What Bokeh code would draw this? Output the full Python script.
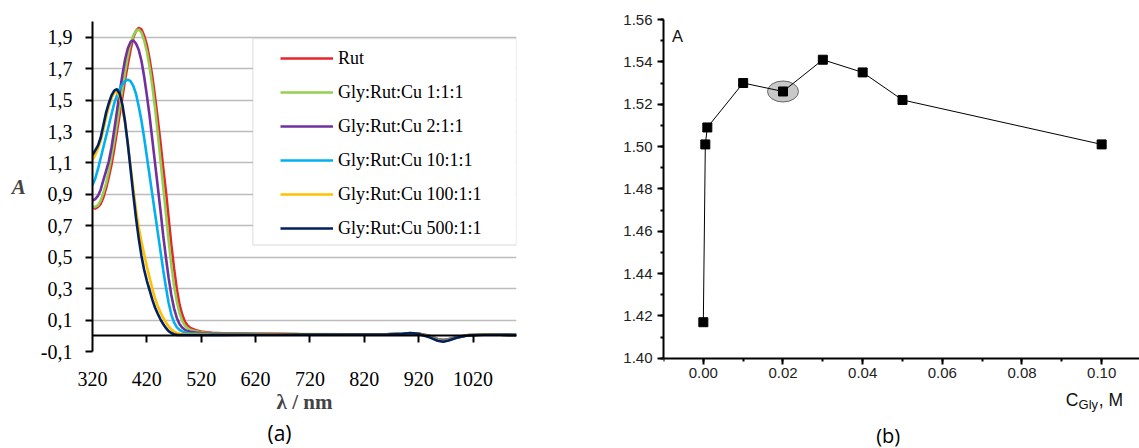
from bokeh.plotting import figure
from bokeh.layouts import row, column
from bokeh.models import (Range1d, FixedTicker, LinearAxis, Legend, LegendItem,
                          BoxAnnotation, SingleIntervalTicker, Title,
                          NumeralTickFormatter, CustomJSTickFormatter)
from bokeh.core.properties import value
from bokeh.embed import file_html
from bokeh.resources import INLINE

# ---------------- data: panel (a) ----------------
wavelength = [320, 325, 330, 335, 340, 345, 350, 355, 360, 365, 370, 375, 380, 385,
              390, 395, 400, 405, 410, 415, 420, 425, 430, 435, 440, 445, 450, 455,
              460, 465, 470, 475, 480, 485, 490, 495, 500,
              510, 520, 530, 540, 560, 600, 650, 700, 800, 860, 890, 905, 920, 940,
              955, 965, 975, 990, 1010, 1040, 1070, 1100]

rut = [0.82, 0.81, 0.82, 0.84, 0.88, 0.94, 1.01, 1.09, 1.19, 1.30, 1.41, 1.52, 1.63, 1.73,
       1.82, 1.90, 1.94, 1.96, 1.95, 1.91, 1.85, 1.76, 1.65, 1.52, 1.38, 1.23, 1.07, 0.92,
       0.75, 0.58, 0.43, 0.30, 0.20, 0.135, 0.09, 0.065, 0.05,
       0.035, 0.027, 0.022, 0.019, 0.016, 0.013, 0.012, 0.011, 0.010, 0.010, 0.012, 0.016,
       0.014, 0.0, -0.020, -0.025, -0.020, -0.008, 0.004, 0.008, 0.007, 0.005]

gly_1 = [0.82, 0.82, 0.83, 0.86, 0.91, 0.97, 1.05, 1.14, 1.24, 1.35, 1.46, 1.57, 1.68, 1.78,
         1.86, 1.91, 1.94, 1.95, 1.93, 1.88, 1.81, 1.71, 1.59, 1.45, 1.29, 1.12, 0.95, 0.78,
         0.61, 0.45, 0.32, 0.22, 0.145, 0.095, 0.065, 0.048, 0.038,
         0.028, 0.022, 0.018, 0.016, 0.014, 0.012, 0.011, 0.011, 0.010, 0.010, 0.012, 0.016,
         0.013, -0.002, -0.022, -0.028, -0.022, -0.010, 0.003, 0.008, 0.007, 0.005]

gly_2 = [0.86, 0.87, 0.89, 0.93, 0.99, 1.05, 1.11, 1.20, 1.31, 1.43, 1.55, 1.66, 1.76, 1.83,
         1.87, 1.88, 1.86, 1.82, 1.75, 1.65, 1.53, 1.40, 1.25, 1.10, 0.95, 0.80, 0.64, 0.50,
         0.37, 0.26, 0.175, 0.115, 0.075, 0.052, 0.038, 0.030, 0.025,
         0.020, 0.017, 0.015, 0.014, 0.013, 0.012, 0.011, 0.010, 0.010, 0.010, 0.012, 0.016,
         0.013, -0.003, -0.025, -0.030, -0.024, -0.010, 0.003, 0.008, 0.007, 0.005]

gly_10 = [0.96, 1.00, 1.06, 1.13, 1.20, 1.27, 1.34, 1.41, 1.48, 1.53, 1.57, 1.60, 1.62, 1.63,
          1.62, 1.59, 1.54, 1.46, 1.37, 1.26, 1.14, 1.02, 0.90, 0.78, 0.66, 0.54, 0.42, 0.31,
          0.21, 0.135, 0.085, 0.055, 0.038, 0.028, 0.022, 0.018, 0.016,
          0.014, 0.013, 0.012, 0.012, 0.011, 0.011, 0.010, 0.010, 0.010, 0.010, 0.012, 0.016,
          0.012, -0.005, -0.028, -0.033, -0.026, -0.010, 0.003, 0.008, 0.007, 0.005]

gly_100 = [1.12, 1.15, 1.19, 1.24, 1.31, 1.39, 1.46, 1.51, 1.55, 1.55, 1.52, 1.45, 1.35, 1.22,
           1.08, 0.94, 0.80, 0.69, 0.60, 0.52, 0.44, 0.37, 0.30, 0.24, 0.19, 0.15, 0.115, 0.085,
           0.06, 0.04, 0.027, 0.018, 0.013, 0.011, 0.010, 0.010, 0.010,
           0.010, 0.010, 0.010, 0.010, 0.010, 0.010, 0.010, 0.010, 0.010, 0.010, 0.013, 0.017,
           0.012, -0.008, -0.030, -0.036, -0.028, -0.012, 0.003, 0.008, 0.007, 0.005]

gly_500 = [1.15, 1.18, 1.21, 1.26, 1.34, 1.42, 1.48, 1.53, 1.56, 1.57, 1.54, 1.47, 1.36, 1.22,
           1.06, 0.90, 0.75, 0.62, 0.51, 0.42, 0.35, 0.29, 0.23, 0.18, 0.14, 0.105, 0.075, 0.05,
           0.03, 0.018, 0.010, 0.006, 0.005, 0.005, 0.005, 0.005, 0.005,
           0.005, 0.005, 0.005, 0.006, 0.006, 0.007, 0.007, 0.008, 0.008, 0.008, 0.012, 0.017,
           0.012, -0.010, -0.032, -0.038, -0.030, -0.013, 0.002, 0.007, 0.007, 0.005]

series_names = ["Rut", "Gly:Rut:Cu 1:1:1", "Gly:Rut:Cu 2:1:1", "Gly:Rut:Cu 10:1:1",
                "Gly:Rut:Cu 100:1:1", "Gly:Rut:Cu 500:1:1"]
series_values = [rut, gly_1, gly_2, gly_10, gly_100, gly_500]
series_colors = ["#e8232b", "#92d050", "#7030a0", "#00b0f0", "#ffc000", "#002060"]

y_ticks_a = [-0.1, 0.1, 0.3, 0.5, 0.7, 0.9, 1.1, 1.3, 1.5, 1.7, 1.9]
x_ticks_a = [320, 420, 520, 620, 720, 820, 920, 1020]

# ---------------- data: panel (b) ----------------
c_gly = [0.0, 0.0005, 0.001, 0.01, 0.02, 0.03, 0.04, 0.05, 0.10]
a_vals = [1.417, 1.501, 1.509, 1.530, 1.526, 1.541, 1.535, 1.522, 1.501]
highlight_index = 4

SERIF = "Liberation Serif"
SANS = "Liberation Sans"

# ================= panel (a) =================
p = figure(width=575, height=448, x_range=Range1d(320, 1100), y_range=Range1d(-0.1, 2.0),
           output_backend="svg", toolbar_location=None,
           min_border_left=92, min_border_right=59, min_border_top=21, min_border_bottom=97)
p.outline_line_color = None
p.background_fill_color = "white"
p.border_fill_color = "white"

p.xgrid.visible = False
p.ygrid.ticker = FixedTicker(ticks=y_ticks_a)
p.ygrid.grid_line_color = "#bcbcbc"
p.ygrid.grid_line_width = 1.5

ya = p.yaxis[0]
ya.ticker = FixedTicker(ticks=y_ticks_a)
ya.formatter = CustomJSTickFormatter(code="return tick.toFixed(1).replace('.', ',');")
ya.axis_line_width = 2
ya.axis_line_color = "black"
ya.major_tick_out = 7
ya.major_tick_in = 0
ya.major_tick_line_width = 2
ya.minor_tick_out = 0
ya.minor_tick_in = 0
ya.major_label_text_font = SERIF
ya.major_label_text_font_size = "20px"
ya.major_label_text_color = "black"
ya.major_label_standoff = 13
ya.axis_label = "A"
ya.axis_label_text_font = SERIF
ya.axis_label_text_font_style = "bold italic"
ya.axis_label_text_font_size = "21px"
ya.axis_label_orientation = "horizontal"
ya.axis_label_standoff = 12

xa = p.xaxis[0]
xa.ticker = FixedTicker(ticks=x_ticks_a)
xa.axis_line_color = None
xa.major_tick_line_color = None
xa.minor_tick_line_color = None
xa.major_label_text_font = SERIF
xa.major_label_text_font_size = "20px"
xa.major_label_text_color = "black"
xa.major_label_standoff = 14
xa.axis_label = "λ / nm"
xa.axis_label_text_font = SERIF
xa.axis_label_text_font_style = "bold"
xa.axis_label_text_font_size = "21px"
xa.axis_label_standoff = 1

zero_axis = LinearAxis(fixed_location=0, ticker=FixedTicker(ticks=x_ticks_a[1:]))
zero_axis.axis_line_width = 2
zero_axis.axis_line_color = "black"
zero_axis.major_tick_out = 7
zero_axis.major_tick_in = 0
zero_axis.major_tick_line_width = 2
zero_axis.minor_tick_out = 0
zero_axis.minor_tick_in = 0
zero_axis.major_label_text_font_size = "0px"
zero_axis.major_label_standoff = 0
p.add_layout(zero_axis, "below")

renderers = []
for name, vals, col in zip(series_names, series_values, series_colors):
    r = p.line(wavelength, vals, line_color=col, line_width=2.6)
    renderers.append(r)

legend_box = BoxAnnotation(left=615, right=1100, top=1.892, bottom=0.578,
                           fill_color="white", fill_alpha=1.0,
                           line_color="#b0b0b0", line_width=1.5)
p.add_layout(legend_box)

legend = Legend(items=[LegendItem(label=n, renderers=[r]) for n, r in zip(series_names, renderers)],
                location=(188, 106), padding=1, margin=0, spacing=0,
                border_line_color=None, background_fill_alpha=0,
                label_text_font=SERIF, label_text_font_size="18px", label_text_color="black",
                glyph_width=53, glyph_height=34, label_height=34, label_standoff=5)
p.add_layout(legend)

p.add_layout(Title(text="(a)", align="left", offset=175, standoff=0,
                   text_font="Open Sans", text_font_size="21px", text_font_style="normal",
                   text_color="black"), "below")

# ================= panel (b) =================
# the frame reaches the bottom of the canvas; the x axis sits at A = 1.40
q = figure(width=564, height=448, x_range=Range1d(-0.01, 0.1095), y_range=Range1d(1.35734, 1.56),
           output_backend="svg", toolbar_location=None,
           min_border_left=88, min_border_right=0, min_border_top=19, min_border_bottom=0)
q.outline_line_color = None
q.grid.visible = False

for ax in (q.xaxis[0], q.yaxis[0]):
    ax.ticker = SingleIntervalTicker(interval=0.02, num_minor_ticks=2)
    ax.formatter = NumeralTickFormatter(format="0.00")
    ax.axis_line_width = 2
    ax.axis_line_color = "black"
    ax.major_tick_out = 6
    ax.major_tick_in = 0
    ax.minor_tick_out = 3
    ax.minor_tick_in = 0
    ax.major_tick_line_width = 2
    ax.minor_tick_line_width = 2
    ax.major_label_text_font = SANS
    ax.major_label_text_font_size = "15px"
    ax.major_label_text_color = "#222222"
q.xaxis[0].fixed_location = 1.40
q.xaxis[0].major_label_standoff = 4
q.yaxis[0].bounds = (1.40, 1.56)
q.yaxis[0].major_label_standoff = 5

q.ellipse(x=[c_gly[highlight_index]], y=[a_vals[highlight_index]], width=31, height=21,
          width_units="screen", height_units="screen",
          fill_color="#c8c8c8", line_color="#666666", line_width=1)
q.line(c_gly, a_vals, line_color="black", line_width=1)
q.scatter(c_gly, a_vals, marker="square", size=9, fill_color="black", line_color="black")

q.text(x=[-0.0065], y=[1.5524], text=["A"], text_align="center", text_baseline="alphabetic",
       text_font=value(SANS), text_font_size="16.5px", text_color="#111111")
q.text(x=[0.0910], y=[1.3803], text=["C"], text_align="left", text_baseline="alphabetic",
       text_font=value(SANS), text_font_size="17.5px", text_color="#111111")
q.text(x=[0.0942], y=[1.3780], text=["Gly"], text_align="left", text_baseline="alphabetic",
       text_font=value(SANS), text_font_size="13px", text_color="#111111")
q.text(x=[0.0993], y=[1.3803], text=[", M"], text_align="left", text_baseline="alphabetic",
       text_font=value(SANS), text_font_size="17.5px", text_color="#111111")
q.text(x=[0.0464], y=[1.3635], text=["(b)"], text_align="center", text_baseline="alphabetic",
       text_font=value("Open Sans"), text_font_size="20px", text_color="black")

layout = row(column(p), column(q))
open("out.html", "w").write(file_html(layout, INLINE))
